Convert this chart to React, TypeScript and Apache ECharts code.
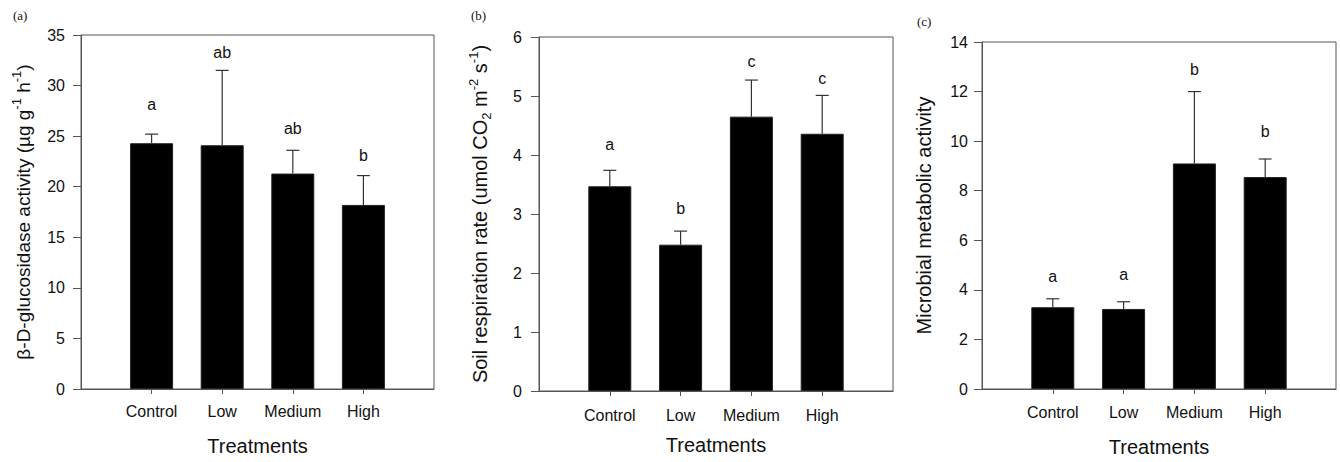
import React, { useEffect, useRef } from "react";
import * as echarts from "echarts";

const categories = ["Control", "Low", "Medium", "High"];

// Panel (a) β-D-glucosidase activity
const glucMean = [24.3, 24.1, 21.3, 18.2];
const glucTop = [25.2, 31.5, 23.6, 21.1];
const glucLetters = ["a", "ab", "ab", "b"];
const glucLetterY = [28.1, 33.3, 25.8, 23.1];
const glucTicks = { min: 0, max: 35, interval: 5 };

// Panel (b) soil respiration rate
const respMean = [3.47, 2.48, 4.65, 4.36];
const respTop = [3.74, 2.71, 5.27, 5.01];
const respLetters = ["a", "b", "c", "c"];
const respLetterY = [4.17, 3.09, 5.59, 5.29];
const respTicks = { min: 0, max: 6, interval: 1 };

// Panel (c) microbial metabolic activity
const microMean = [3.3, 3.23, 9.1, 8.55];
const microTop = [3.64, 3.52, 12.0, 9.28];
const microLetters = ["a", "a", "b", "b"];
const microLetterY = [4.53, 4.6, 12.9, 10.38];
const microTicks = { min: 0, max: 14, interval: 2 };

const panelLabels = ["(a)", "(b)", "(c)"];
const xTitle = "Treatments";

const SANS = "'Liberation Sans', Arial, sans-serif";
const SERIF = "'Liberation Serif', 'Times New Roman', serif";
const AXIS = "#555";

export default function App() {
  const ref = useRef<HTMLDivElement>(null);

  useEffect(() => {
    if (!ref.current) return;
    const chart = echarts.init(ref.current, undefined, { renderer: "svg" });

    const panels = [
      {
        mean: glucMean, top: glucTop, letters: glucLetters, letterY: glucLetterY, ticks: glucTicks,
        grid: { left: 81, top: 35, width: 353, height: 354 },
        yName: "{t|β}{t|-D-glucosidase activity (}{t|µ}{t|g g}{s|-1}{t| h}{s|-1}{t|)}",
        yNameGap: 45, yLabelMargin: 16, xLabelMargin: 14, xNameGap: 47, titleSize: 19,
      },
      {
        mean: respMean, top: respTop, letters: respLetters, letterY: respLetterY, ticks: respTicks,
        grid: { left: 539, top: 37, width: 354, height: 354 },
        yName: "{t|Soil respiration rate (umol CO}{b|2}{t| m}{s|-2}{t| s}{s|-1}{t|)}",
        yNameGap: 46, yLabelMargin: 17, xLabelMargin: 16, xNameGap: 44, titleSize: 20,
      },
      {
        mean: microMean, top: microTop, letters: microLetters, letterY: microLetterY, ticks: microTicks,
        grid: { left: 982, top: 42, width: 354, height: 352 },
        yName: "{t|Microbial metabolic activity}",
        yNameGap: 45, yLabelMargin: 14, xLabelMargin: 15, xNameGap: 48, titleSize: 20,
      },
    ];

    const grids: any[] = [];
    const xAxes: any[] = [];
    const yAxes: any[] = [];
    const series: any[] = [];

    panels.forEach((p, i) => {
      const rich = {
        t: { fontSize: p.titleSize, fontFamily: SANS, color: "#111", lineHeight: 26 },
        s: { fontSize: 13, fontFamily: SANS, color: "#111", verticalAlign: "top", lineHeight: 14 },
        b: { fontSize: 13, fontFamily: SANS, color: "#111", verticalAlign: "bottom", lineHeight: 12 },
      };
      grids.push({ ...p.grid, show: true, borderColor: AXIS, borderWidth: 1, backgroundColor: "transparent" });
      xAxes.push({
        type: "value", gridIndex: i, min: 0, max: categories.length + 1, interval: 1,
        axisLine: { show: true, lineStyle: { color: AXIS, width: 1 } },
        axisTick: { show: true, inside: false, length: 5, customValues: categories.map((_, k) => k + 1), lineStyle: { color: AXIS } },
        axisLabel: {
          show: true, customValues: categories.map((_, k) => k + 1),
          formatter: (v: number) => categories[Math.round(v) - 1] ?? "",
          fontSize: 16, fontFamily: SANS, color: "#111", margin: p.xLabelMargin,
        },
        splitLine: { show: false },
        name: xTitle, nameLocation: "middle", nameGap: p.xNameGap,
        nameTextStyle: { fontSize: 20, fontFamily: SANS, color: "#111" },
      });
      yAxes.push({
        type: "value", gridIndex: i, min: p.ticks.min, max: p.ticks.max, interval: p.ticks.interval,
        axisLine: { show: true, lineStyle: { color: AXIS, width: 1 } },
        axisTick: { show: true, inside: false, length: 8, lineStyle: { color: AXIS } },
        axisLabel: { fontSize: 16, fontFamily: SANS, color: "#111", margin: p.yLabelMargin },
        splitLine: { show: false },
        name: p.yName, nameLocation: "middle", nameRotate: 90, nameGap: p.yNameGap,
        nameTextStyle: { rich },
      });
      series.push({
        type: "bar", xAxisIndex: i, yAxisIndex: i, barWidth: 43,
        itemStyle: { color: "#000", borderColor: "#222", borderWidth: 1 },
        data: p.mean.map((v, k) => [k + 1, v]),
        z: 3,
      });
      series.push({
        type: "custom", xAxisIndex: i, yAxisIndex: i, z: 4,
        data: p.mean.map((v, k) => [k + 1, v, p.top[k]]),
        renderItem: (_params: any, api: any) => {
          const a = api.coord([api.value(0), api.value(1)]);
          const b = api.coord([api.value(0), api.value(2)]);
          const st = { stroke: "#333", lineWidth: 1.2 };
          return {
            type: "group",
            children: [
              { type: "line", shape: { x1: a[0], y1: a[1], x2: b[0], y2: b[1] }, style: st },
              { type: "line", shape: { x1: b[0] - 6.5, y1: b[1], x2: b[0] + 6.5, y2: b[1] }, style: st },
            ],
          };
        },
      });
      const letters = p.letters;
      series.push({
        type: "custom", xAxisIndex: i, yAxisIndex: i, z: 5,
        data: p.letterY.map((v, k) => [k + 1, v]),
        renderItem: (params: any, api: any) => {
          const c = api.coord([api.value(0), api.value(1)]);
          return {
            type: "text",
            style: {
              text: letters[params.dataIndex], x: c[0], y: c[1],
              textAlign: "center", textVerticalAlign: "middle",
              fontSize: 16, fontFamily: SANS, fill: "#111",
            },
          };
        },
      });
    });

    const labelPos = [[13, 17], [471, 17], [917, 23]];
    chart.setOption({
      animation: false,
      backgroundColor: "#fff",
      grid: grids,
      xAxis: xAxes,
      yAxis: yAxes,
      series,
      graphic: panelLabels.map((t, i) => ({
        type: "text", left: labelPos[i][0], top: labelPos[i][1] - 8,
        style: { text: t, fontSize: 13, fontFamily: SERIF, fill: "#111" },
      })),
    });

    return () => chart.dispose();
  }, []);

  return <div ref={ref} style={{ position: "fixed", left: 0, top: 0, width: 1340, height: 462 }} />;
}
